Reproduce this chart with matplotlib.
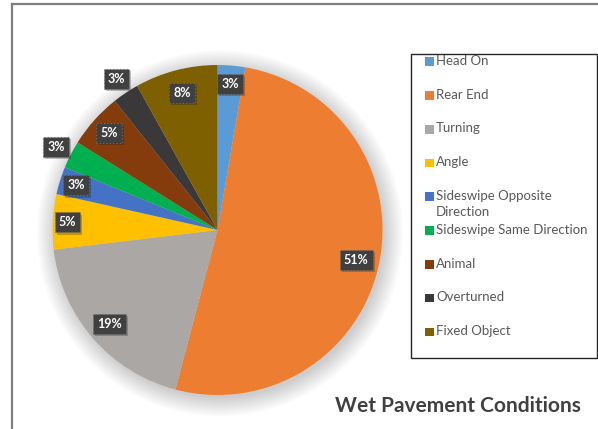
import numpy as np
import matplotlib.pyplot as plt
import matplotlib.patheffects as pe
from matplotlib.patches import Circle, Rectangle

plt.rcParams['font.family'] = ['Lato', 'DejaVu Sans']

categories = ["Head On", "Rear End", "Turning", "Angle", "Sideswipe Opposite Direction",
              "Sideswipe Same Direction", "Animal", "Overturned", "Fixed Object"]
shares = [2.7, 51.4, 19.0, 5.4, 2.7, 2.7, 5.4, 2.6, 8.1]
colors = ["#5B9BD5", "#ED7D31", "#ABA7A5", "#FFC000", "#4472C4",
          "#00B050", "#843C0C", "#3A3838", "#7F6000"]
# how far out each percentage box sits (fraction of radius)
label_r = [0.89, 0.86, 0.87, 0.91, 0.90, 1.10, 0.88, 1.10, 0.86]

W, H = 598, 429
fig = plt.figure(figsize=(W / 100, H / 100), dpi=100)

# pie centre and radius in pixels
cx, cy, R = 217.5, 429 - 230, 165
lim = 1.35
ax = fig.add_axes([(cx - R * lim) / W, (cy - R * lim) / H, 2 * R * lim / W, 2 * R * lim / H])

# soft drop shadow behind the pie
for k in range(10):
    ax.add_patch(Circle((0.015, -0.02), 1.0 + 0.012 * k, color='black',
                        alpha=0.018, lw=0, zorder=0))

wedges, _ = ax.pie(shares, colors=colors, startangle=90, counterclock=False,
                   radius=1.0, wedgeprops=dict(linewidth=0))
for w in wedges:
    w.set_zorder(2)
ax.set_xlim(-lim, lim)
ax.set_ylim(-lim, lim)
ax.set_aspect('equal')
ax.axis('off')

total = sum(shares)
for w, v, r in zip(wedges, shares, label_r):
    mid = np.deg2rad((w.theta1 + w.theta2) / 2)
    x, y = r * np.cos(mid), r * np.sin(mid)
    t = ax.text(x, y, f"{v / total * 100:.0f}%", ha='center', va='center',
                fontsize=9, fontweight='bold', color='white', zorder=4,
                bbox=dict(boxstyle='square,pad=0.32', fc='#404040', ec='#6f6f6f',
                          ls=(0, (1, 2)), lw=0.8))
    t.get_bbox_patch().set_path_effects(
        [pe.SimplePatchShadow(offset=(1.5, -1.5), alpha=0.25), pe.Normal()])

# outer chart frame (left and top edges)
fig.add_artist(plt.Line2D([11.5 / W, 11.5 / W], [0, 1 - 3.5 / H], color='#7f7f7f', lw=1.6))
fig.add_artist(plt.Line2D([11.5 / W, 1], [1 - 3.5 / H, 1 - 3.5 / H], color='#7f7f7f', lw=1.6))

# legend box
lx0, lx1, ly0, ly1 = 411, 597, 54, 358
fig.add_artist(Rectangle((lx0 / W, 1 - ly1 / H), (lx1 - lx0) / W, (ly1 - ly0) / H,
                         fill=False, ec='#262626', lw=1.0))
step = 33.75
for i, (name, c) in enumerate(zip(categories, colors)):
    yy = 62 + i * step
    fig.add_artist(Rectangle((425 / W, 1 - (yy + 4) / H), 8.5 / W, 8.5 / H,
                             fc=c, ec='none'))
    label = name.replace("Opposite ", "Opposite\n")
    fig.text(436 / W, 1 - (yy - 7) / H, label, ha='left', va='top',
             fontsize=9.5, color='#595959', linespacing=1.35)

fig.text(458 / W, 1 - 406 / H, "Wet Pavement Conditions", ha='center', va='center',
         fontsize=15, fontweight='bold', color='#404040')

fig.savefig('out.png', dpi=100)
